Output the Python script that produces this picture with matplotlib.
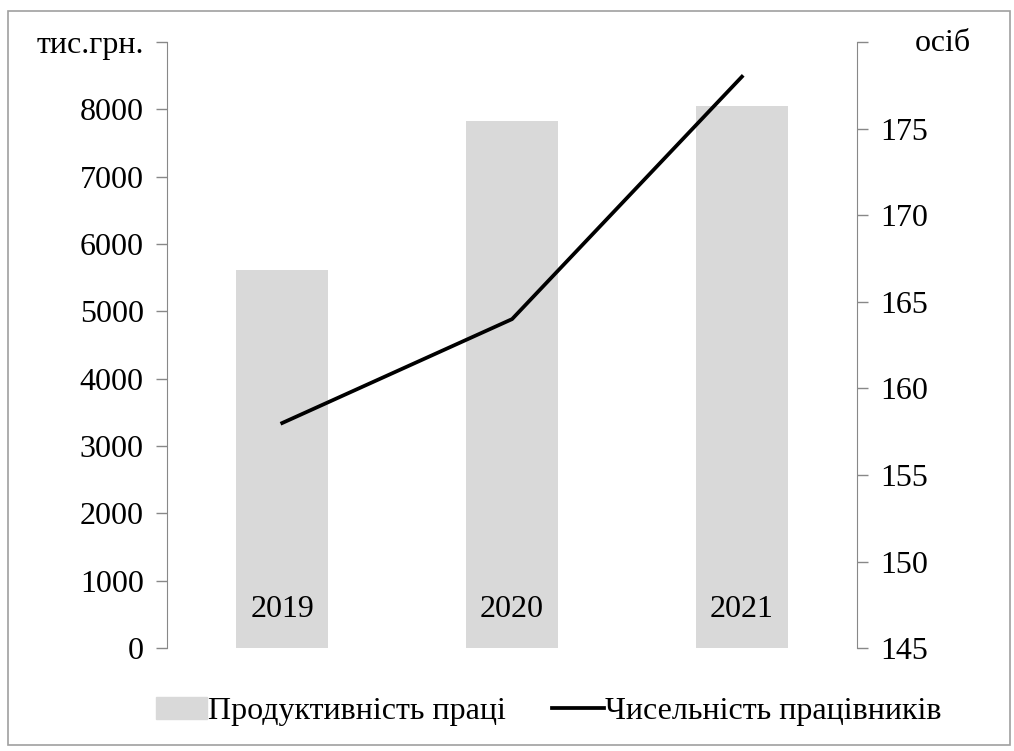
import matplotlib.pyplot as plt
import matplotlib.patches as mpatches
from matplotlib.lines import Line2D

plt.rcParams['font.family'] = ['Liberation Serif', 'DejaVu Serif']

years = ['2019', '2020', '2021']
productivity = [5615, 7830, 8050]   # тис.грн.
employees = [158, 164, 178]         # осіб

left_ticks = [0, 1000, 2000, 3000, 4000, 5000, 6000, 7000, 8000, 9000]
left_labels = ['0', '1000', '2000', '3000', '4000', '5000', '6000', '7000', '8000', 'тис.грн.']
right_ticks = [145, 150, 155, 160, 165, 170, 175, 180]
right_labels = ['145', '150', '155', '160', '165', '170', '175', '']

axis_grey = '#888888'
fs = 23

fig = plt.figure(figsize=(10.14, 7.51), dpi=100)
ax = fig.add_axes([0.165, 0.137, 0.680, 0.807])
x = range(len(years))

ax.bar(x, productivity, width=0.4, color='#d9d9d9', zorder=1)
ax.set_xlim(-0.5, 2.5)
ax.set_ylim(0, 9000)
ax.set_yticks(left_ticks)
ax.set_yticklabels(left_labels)
ax.set_xticks([])

# year labels sit inside the bars near the base
for i, y in enumerate(years):
    ax.text(i, 570, y, ha='center', va='center', fontsize=fs)

ax2 = ax.twinx()
ax2.plot(list(x), employees, color='black', lw=2.7, zorder=3)
ax2.set_ylim(145, 180)
ax2.set_yticks(right_ticks)
ax2.set_yticklabels(right_labels)

for a in (ax, ax2):
    for s in ('top', 'bottom'):
        a.spines[s].set_visible(False)
    a.spines['left'].set_color(axis_grey)
    a.spines['right'].set_color(axis_grey)
    a.tick_params(axis='y', direction='out', length=8, width=1, color=axis_grey,
                  labelsize=fs, pad=9)
ax2.spines['left'].set_visible(False)
ax.spines['right'].set_visible(False)

# unit caption for the right axis
fig.text(0.902, 0.942, 'осіб', ha='left', va='center', fontsize=fs)

handles = [mpatches.Patch(color='#d9d9d9', label='Продуктивність праці'),
           Line2D([0], [0], color='black', lw=2.7, label='Чисельність працівників')]
fig.legend(handles=handles, loc='center', bbox_to_anchor=(0.541, 0.053), ncol=2,
           frameon=False, fontsize=fs, handlelength=1.6, handletextpad=0.05,
           columnspacing=1.45)

# outer chart frame
fig.patches.append(mpatches.Rectangle((0.008, 0.008), 0.988, 0.978,
                                      transform=fig.transFigure, fill=False,
                                      edgecolor='#a0a0a0', lw=1.2))

fig.savefig('out.png', dpi=100)
